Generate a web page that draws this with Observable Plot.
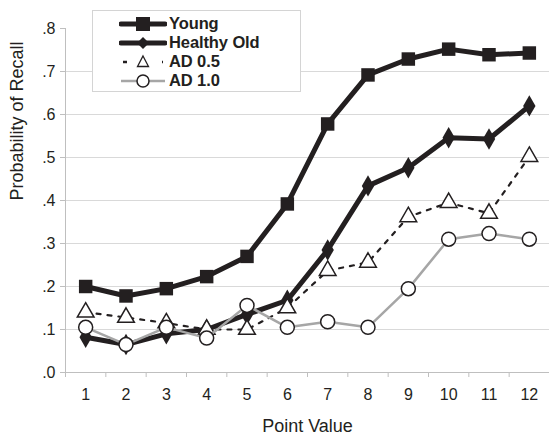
<!DOCTYPE html>
<html><head><meta charset="utf-8">
<script src="https://cdn.jsdelivr.net/npm/d3@7"></script>
<script src="https://cdn.jsdelivr.net/npm/@observablehq/plot@0.6"></script>
<style>
body{margin:0;background:#fff;font-family:"Liberation Sans",Arial,sans-serif;}
#wrap{position:relative;width:549px;height:437px;}
#legend{position:absolute;left:92px;top:10px;width:209px;height:82px;border:1px solid #d4d4d4;background:#fff;box-sizing:border-box;padding-top:3px;}
.row{display:flex;align-items:center;height:19px;font-weight:bold;font-size:16.5px;color:#231f20;letter-spacing:-0.1px;}
.row svg{margin-left:26px;margin-right:2px;}
</style></head>
<body><div id="wrap"><div id="chart"></div><div id="legend"></div></div>
<script>
const pointValues = [1,2,3,4,5,6,7,8,9,10,11,12];
const young      = [0.200,0.178,0.195,0.223,0.270,0.392,0.578,0.692,0.729,0.752,0.739,0.743];
const healthyOld = [0.082,0.065,0.090,0.100,0.135,0.168,0.285,0.434,0.476,0.546,0.543,0.620];
const ad05       = [0.140,0.128,0.115,0.100,0.100,0.150,0.237,0.256,0.362,0.395,0.370,0.502];
const ad10       = [0.105,0.065,0.105,0.080,0.156,0.105,0.118,0.105,0.195,0.310,0.323,0.310];
const seriesNames = ["Young","Healthy Old","AD 0.5","AD 1.0"];
const yTicks = [0,0.1,0.2,0.3,0.4,0.5,0.6,0.7,0.8];

const rows = (vals) => pointValues.map((p,i)=>({x:p,y:vals[i]}));
const Y = rows(young), H = rows(healthyOld), A5 = rows(ad05), A1 = rows(ad10);
const xMin = pointValues[0]-0.5, xMax = pointValues[pointValues.length-1]+0.5;
const bounds = pointValues.map(p=>p-0.5).concat([xMax]);
const fmt = d => d3.format(".1f")(d).replace(/^0/,"");
const dark = "#231f20";

const chart = Plot.plot({
  width:549, height:437,
  marginLeft:65, marginRight:0, marginTop:28, marginBottom:65,
  style:{fontFamily:"Liberation Sans, Arial, sans-serif", fontSize:"16px", color:"#231f20"},
  x:{domain:[xMin,xMax]},
  y:{domain:[0,0.8]},
  marks:[
    Plot.gridY(yTicks.filter(t=>t>0 && t<0.8), {stroke:"#d9d9d9", strokeOpacity:1}),
    Plot.ruleY([0], {stroke:"#bfbfbf"}),
    Plot.ruleX([xMin], {stroke:"#bfbfbf"}),
    Plot.axisY({ticks:yTicks, tickFormat:fmt, tickSize:5, tickPadding:5, stroke:"#bfbfbf", label:null}),
    Plot.axisX({ticks:pointValues, tickSize:0, tickPadding:16, label:null}),
    Plot.axisX({ticks:bounds, tickFormat:()=>"", tickSize:5, stroke:"#bfbfbf", label:null}),
    Plot.text(["Point Value"], {frameAnchor:"bottom", dy:59, fontSize:18, fill:dark}),
    Plot.text(["Probability of Recall"], {frameAnchor:"left", dx:-48, rotate:-90, fontSize:18, fill:dark}),
    Plot.line(Y, {x:"x", y:"y", stroke:dark, strokeWidth:5}),
    Plot.dot(Y, {x:"x", y:"y", symbol:"square", r:7.6, fill:dark, stroke:"none"}),
    Plot.line(H, {x:"x", y:"y", stroke:dark, strokeWidth:5}),
    Plot.dot(H, {x:"x", y:"y", symbol:"diamond", r:6.5, fill:dark, stroke:"none"}),
    Plot.line(A5, {x:"x", y:"y", stroke:dark, strokeWidth:2.2, strokeDasharray:"4,7"}),
    Plot.dot(A5, {x:"x", y:"y", symbol:"triangle", r:6.2, fill:"white", stroke:dark, strokeWidth:1.5}),
    Plot.line(A1, {x:"x", y:"y", stroke:"#a6a6a6", strokeWidth:2.5}),
    Plot.dot(A1, {x:"x", y:"y", r:7, fill:"white", stroke:dark, strokeWidth:1.5})
  ]
});
document.getElementById("chart").appendChild(chart);

const samples = [
  `<line x1="2" y1="9" x2="46" y2="9" stroke="${dark}" stroke-width="5" stroke-linecap="round"/><rect x="17" y="2" width="14" height="14" fill="${dark}"/>`,
  `<line x1="2" y1="9" x2="46" y2="9" stroke="${dark}" stroke-width="5" stroke-linecap="round"/><path d="M24 3 L30 9 L24 15 L18 9Z" fill="${dark}"/>`,
  `<line x1="4" y1="9" x2="44" y2="9" stroke="${dark}" stroke-width="2.5" stroke-dasharray="4,9"/><rect x="14" y="2" width="20" height="14" fill="white"/><path d="M24 3 L29.5 13.5 L18.5 13.5Z" fill="white" stroke="${dark}" stroke-width="1.3"/>`,
  `<line x1="2" y1="9" x2="46" y2="9" stroke="#a6a6a6" stroke-width="2.5"/><circle cx="24" cy="9" r="6" fill="white" stroke="${dark}" stroke-width="1.5"/>`
];
document.getElementById("legend").innerHTML = seriesNames.map((n,i)=>
  `<div class="row"><svg width="48" height="18">${samples[i]}</svg><span>${n}</span></div>`).join("");
</script></body></html>
